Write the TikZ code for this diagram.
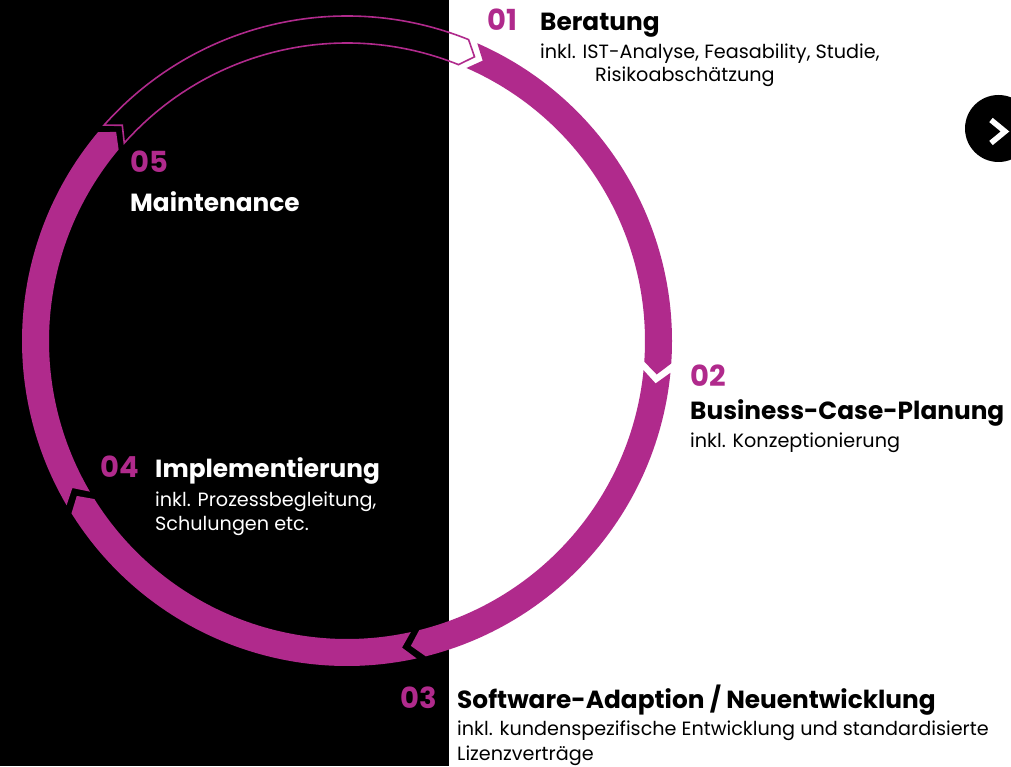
\documentclass[tikz,border=0pt]{standalone}
\usepackage{fontspec}
\setmainfont{Poppins}
\definecolor{mag}{RGB}{176,42,140}
\begin{document}
\begin{tikzpicture}[x=1pt,y=1pt,
  num/.style={anchor=base west,inner sep=0,font=\fontsize{29}{29}\selectfont\bfseries,text=mag},
  ttl/.style={anchor=base west,inner sep=0,font=\fontsize{24.8}{25}\selectfont\bfseries},
  sub/.style={anchor=base west,inner sep=0,font=\fontsize{19.2}{19}\selectfont},
  seg/.style={fill=mag},
  segline/.style={draw=mag,line width=1.6,line join=miter}]
\useasboundingbox (0,0) rectangle (1011,766);
\fill[white] (0,0) rectangle (1011,766);
\fill[black] (0,0) rectangle (449,766);
% ring
\begin{scope}[shift={(347,425)}]
\foreach \a in {65,-7,-79,-151} {
  \pgfmathsetmacro\b{\a-72}
  \pgfmathsetmacro\ta{\a+1.37}
  \pgfmathsetmacro\tv{\a-0.83}
  \pgfmathsetmacro\hb{\b+3.03}
  \pgfmathsetmacro\ht{\b+0.83}
  \fill[seg] (\ta:325) arc[start angle=\ta,end angle=\hb,radius=325] -- (\ht:311.5) -- (\hb:298) arc[start angle=\hb,end angle=\ta,radius=298] -- (\tv:311.5) -- cycle;
}
\pgfmathsetmacro\a{-223}
\pgfmathsetmacro\b{\a-72}
\pgfmathsetmacro\ta{\a+1.37}
\pgfmathsetmacro\tv{\a-0.83}
\pgfmathsetmacro\hb{\b+3.03}
\pgfmathsetmacro\ht{\b+0.83}
\draw[segline] (\ta:325) arc[start angle=\ta,end angle=\hb,radius=325] -- (\ht:311.5) -- (\hb:298) arc[start angle=\hb,end angle=\ta,radius=298] -- (\tv:311.5) -- cycle;
\end{scope}
% next button
\fill[black] (998.5,637.5) circle[radius=33.5];
\draw[white,line width=5.5] (991,646) -- (1005,634.5) -- (991,623);
% texts
\node[num] (n1) at (487,735) {01};
\node[ttl] (t1) at (540,735) {Beratung};
\node[sub] (s1a) at (540,707) {inkl. IST-Analyse, Feasability, Studie,};
\node[sub] (s1b) at (595,684) {Risikoabschätzung};
\node[num] (n2) at (690,379) {02};
\node[ttl] (t2) at (690,346) {Business-Case-Planung};
\node[sub] (s2) at (690,318) {inkl. Konzeptionierung};
\node[num] (n3) at (400,58) {03};
\node[ttl] (t3) at (457,58) {Software-Adaption / Neuentwicklung};
\node[sub] (s3a) at (457,31) {inkl. kundenspezifische Entwicklung und standardisierte};
\node[sub] (s3b) at (457,6) {Lizenzverträge};
\node[num] (n4) at (100,288) {04};
\node[ttl,text=white] (t4) at (155,288) {Implementierung};
\node[sub,text=white] (s4a) at (155,259) {inkl. Prozessbegleitung,};
\node[sub,text=white] (s4b) at (155,236) {Schulungen etc.};
\node[num] (n5) at (130,593) {05};
\node[ttl,text=white] (t5) at (130,554) {Maintenance};
\end{tikzpicture}
\end{document}
